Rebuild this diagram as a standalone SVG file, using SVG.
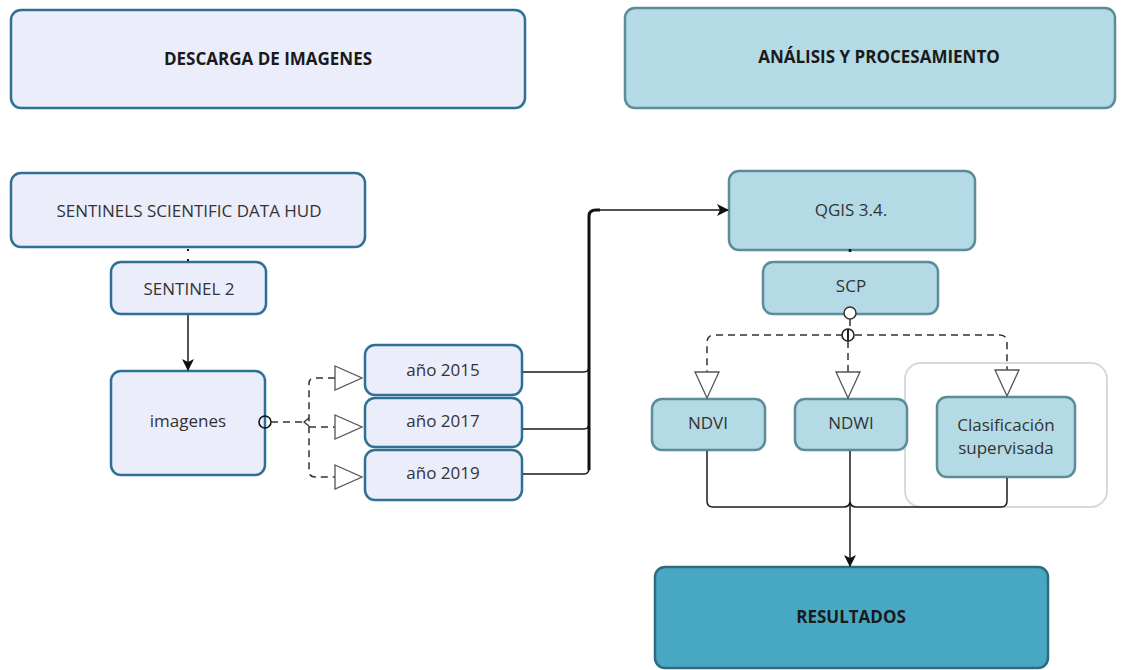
<svg xmlns="http://www.w3.org/2000/svg" width="1125" height="670" viewBox="0 0 1125 670">
<defs>
<style>
.lav{fill:#ecedfb;stroke:#2f7195;stroke-width:2.5}
.lb{fill:#b4dbe5;stroke:#5c8c99;stroke-width:2.5}
.res{fill:#48a8c4;stroke:#2e6b7e;stroke-width:2.5}
.grp{fill:none;stroke:#d4dcdf;stroke-width:2}
.t{font-family:"Open Sans","Noto Sans",sans-serif;font-size:17px;fill:#333;text-anchor:middle}
.b{font-weight:bold;fill:#1a1a1a;font-size:17px}
.c{fill:none;stroke:#1a1a1a;stroke-width:1.5}
.d{fill:none;stroke:#333;stroke-width:1.5;stroke-dasharray:7 5}
.tri{fill:#fff;stroke:#555;stroke-width:1.3}
</style>
<marker id="ah" viewBox="0 0 12 12" refX="11" refY="6" markerWidth="12" markerHeight="12" markerUnits="userSpaceOnUse" orient="auto">
<path d="M0,0 L12,6 L0,12 L3,6 Z" fill="#111"/>
</marker>
</defs>

<g id="descarga"><rect class="lav" x="11" y="10" width="514" height="98" rx="10"/><text class="t b" x="268" y="65">DESCARGA DE IMAGENES</text></g>
<g id="analisis"><rect class="lb" x="625" y="8" width="490" height="100" rx="10"/><text class="t b" x="879" y="63">ANÁLISIS Y PROCESAMIENTO</text></g>

<g id="grupo"><rect class="grp" x="905" y="363" width="202" height="144" rx="16"/></g>

<g id="sentinels"><rect class="lav" x="11" y="173" width="354" height="74" rx="10"/><text class="t" x="189" y="217">SENTINELS SCIENTIFIC DATA HUD</text></g>
<g id="sentinel2"><rect class="lav" x="111" y="262" width="155" height="52" rx="10"/><text class="t" x="189" y="295">SENTINEL 2</text></g>
<g id="imagenes"><rect class="lav" x="111" y="371" width="154" height="104" rx="10"/><text class="t" x="188" y="427">imagenes</text></g>
<g id="y2015"><rect class="lav" x="365" y="345" width="157" height="50" rx="10"/><text class="t" x="443" y="376">año 2015</text></g>
<g id="y2017"><rect class="lav" x="365" y="398" width="157" height="49" rx="10"/><text class="t" x="443" y="427">año 2017</text></g>
<g id="y2019"><rect class="lav" x="365" y="450" width="157" height="50" rx="10"/><text class="t" x="443" y="479">año 2019</text></g>
<g id="qgis"><rect class="lb" x="729" y="171" width="246" height="79" rx="10"/><text class="t" x="851" y="216">QGIS 3.4.</text></g>
<g id="scp"><rect class="lb" x="763" y="262" width="175" height="52" rx="10"/><text class="t" x="851" y="292">SCP</text></g>
<g id="ndvi"><rect class="lb" x="652" y="399" width="113" height="51" rx="10"/><text class="t" x="708" y="429">NDVI</text></g>
<g id="ndwi"><rect class="lb" x="795" y="399" width="112" height="51" rx="10"/><text class="t" x="851" y="429">NDWI</text></g>
<g id="clasif"><rect class="lb" x="937" y="397" width="138" height="80" rx="10"/><text class="t" x="1006" y="431">Clasificación</text><text class="t" x="1006" y="454">supervisada</text></g>
<g id="resultados"><rect class="res" x="655" y="567" width="393" height="101" rx="10"/><text class="t b" x="851" y="623">RESULTADOS</text></g>

<g id="connectors">
<line x1="188" y1="249" x2="188" y2="262" stroke="#111" stroke-width="2" stroke-dasharray="2 8"/>
<line class="c" x1="188" y1="315" x2="188" y2="370" marker-end="url(#ah)"/>
<circle cx="265" cy="422" r="6" fill="none" stroke="#111" stroke-width="1.6"/>
<line class="d" x1="271" y1="422" x2="303" y2="422"/>
<path d="M309,418 L304,422 L309,426" fill="none" stroke="#333" stroke-width="1.3"/>
<path class="d" d="M335,378 L314,378 Q309,378 309,384 L309,471 Q309,477 315,477 L335,477"/>
<line class="d" x1="309" y1="427" x2="335" y2="427"/>
<polygon class="tri" points="335,366 362,378 335,390"/>
<polygon class="tri" points="335,415 362,427 335,439"/>
<polygon class="tri" points="335,465 362,477 335,489"/>
<path class="c" d="M523,372 L584,372 Q589,372 589,366"/>
<path class="c" d="M523,429 L584,429 Q589,429 589,423"/>
<path class="c" d="M523,474 L584,474 Q589,474 589,468"/>
<path fill="none" stroke="#111" stroke-width="3" d="M589,470 L589,216 Q589,210 596,210 L600,210"/>
<line class="c" x1="598" y1="210" x2="728" y2="210" marker-end="url(#ah)"/>
<line x1="850" y1="249" x2="850" y2="252" stroke="#111" stroke-width="2.5"/>
<circle cx="850" cy="313" r="6" fill="#fff" stroke="#333" stroke-width="1.5"/>
<line class="d" x1="850" y1="319" x2="850" y2="330"/>
<path class="d" d="M843,335 L714,335 Q707,335 707,343 L707,372"/>
<path class="d" d="M855,335 L1000,335 Q1007,335 1007,343 L1007,370"/>
<line class="d" x1="848" y1="341" x2="848" y2="372"/>
<circle cx="848" cy="335" r="6" fill="#fff" stroke="#222" stroke-width="1.6"/>
<line x1="848" y1="329" x2="848" y2="341" stroke="#222" stroke-width="2"/>
<polygon class="tri" points="695,372 719,372 707,398"/>
<polygon class="tri" points="836,372 860,372 848,398"/>
<polygon class="tri" points="995,370 1019,370 1007,396"/>
<path class="c" d="M707,451 L707,501 Q707,507 713,507 L844,507"/>
<path class="c" d="M1007,478 L1007,501 Q1007,507 1001,507 L856,507"/>
<path class="c" d="M844,507 Q849,507 850,502 Q851,507 856,507"/>
<line class="c" x1="850" y1="451" x2="850" y2="507"/>
<line class="c" x1="850" y1="507" x2="850" y2="566" marker-end="url(#ah)"/>
</g>
</svg>
